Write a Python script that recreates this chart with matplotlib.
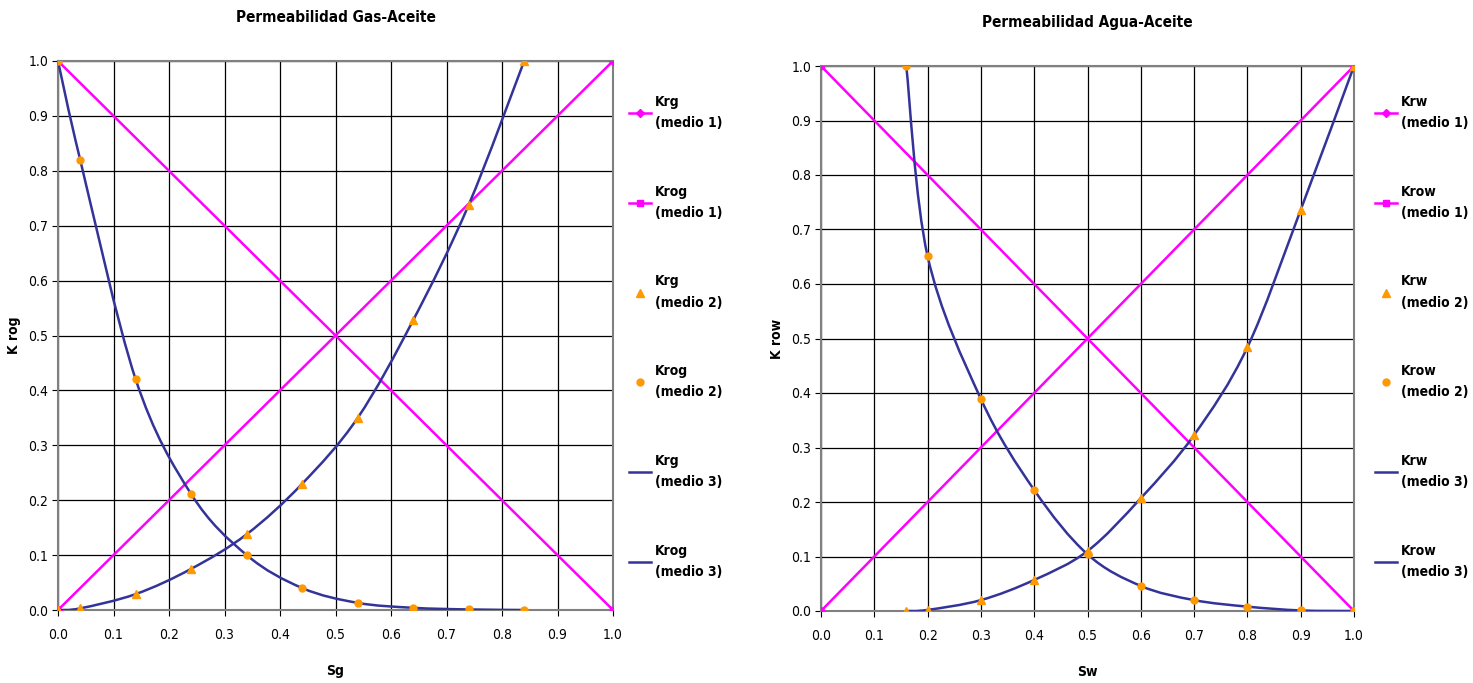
import numpy as np
import matplotlib.pyplot as plt
from matplotlib.path import Path
from matplotlib.patches import PathPatch
from matplotlib.lines import Line2D

plt.rcParams['font.family'] = ['DejaVu Sans']
plt.rcParams['font.stretch'] = 'condensed'

# medio 1: straight lines
m1_x = [0.0, 1.0]
m1_kr = [0.0, 1.0]
m1_kro = [1.0, 0.0]

# Gas-Aceite (medio 2 points, medio 3 smooth curve through same points)
sg = [0.0, 0.04, 0.14, 0.24, 0.34, 0.44, 0.54, 0.64, 0.74, 0.84]
krg = [0.0, 0.003, 0.029, 0.075, 0.138, 0.23, 0.35, 0.528, 0.738, 1.0]
krog = [1.0, 0.82, 0.42, 0.211, 0.10, 0.04, 0.013, 0.004, 0.001, 0.0]

# Agua-Aceite
sw = [0.16, 0.2, 0.3, 0.4, 0.5, 0.6, 0.7, 0.8, 0.9, 1.0]
krw = [0.0, 0.002, 0.02, 0.057, 0.11, 0.207, 0.323, 0.484, 0.736, 1.0]
krow = [1.0, 0.651, 0.389, 0.222, 0.104, 0.046, 0.02, 0.008, 0.001, 0.0]

MAG = '#FF00FF'
ORG = '#FF9900'
BLUE = '#333399'


def smooth_path(x, y):
    # Catmull-Rom segments turned into cubic bezier (Excel style smoothing)
    pts = np.column_stack([np.asarray(x, float), np.asarray(y, float)])
    verts = [pts[0]]
    codes = [Path.MOVETO]
    n = len(pts)
    for i in range(n - 1):
        p0 = pts[i - 1] if i > 0 else pts[i]
        p1 = pts[i]
        p2 = pts[i + 1]
        p3 = pts[i + 2] if i + 2 < n else pts[i + 1]
        verts += [p1 + (p2 - p0) / 6.0, p2 - (p3 - p1) / 6.0, p2]
        codes += [Path.CURVE4] * 3
    return Path(verts, codes)


def draw_panel(ax, x, kr, kro, title, xlabel, ylabel, names):
    ax.plot(m1_x, m1_kr, color=MAG, lw=1.8, marker='D', ms=4.5, zorder=3)
    ax.plot(m1_x, m1_kro, color=MAG, lw=1.8, marker='s', ms=4.5, zorder=3)
    for yy in (kr, kro):
        ax.add_patch(PathPatch(smooth_path(x, yy), fc='none', ec=BLUE,
                               lw=1.8, zorder=4))
    ax.plot(x, kr, ls='none', marker='^', color=ORG, ms=5.5, zorder=5)
    ax.plot(x, kro, ls='none', marker='o', color=ORG, ms=5, zorder=5)

    ax.set_xlim(0, 1)
    ax.set_ylim(0, 1)
    ticks = np.arange(0, 1.01, 0.1)
    ax.set_xticks(ticks)
    ax.set_yticks(ticks)
    ax.set_xticklabels([f'{t:.1f}' for t in ticks])
    ax.set_yticklabels([f'{t:.1f}' for t in ticks])
    ax.tick_params(labelsize=10, length=4, direction='out')
    ax.tick_params(axis='x', pad=9)
    ax.tick_params(axis='y', pad=3)
    ax.grid(True, color='black', lw=0.9)
    for s in ax.spines.values():
        s.set_color('#808080')
        s.set_linewidth(1.5)
    ax.set_axisbelow(True)
    ax.set_title(title, fontsize=11, fontweight='bold', pad=28)
    ax.set_xlabel(xlabel, fontsize=10, fontweight='bold', labelpad=16)
    ax.set_ylabel(ylabel, fontsize=10, fontweight='bold', labelpad=5)

    handles = [
        Line2D([], [], color=MAG, lw=1.8, marker='D', ms=4.5),
        Line2D([], [], color=MAG, lw=1.8, marker='s', ms=4.5),
        Line2D([], [], ls='none', marker='^', color=ORG, ms=5.5),
        Line2D([], [], ls='none', marker='o', color=ORG, ms=5),
        Line2D([], [], color=BLUE, lw=1.8),
        Line2D([], [], color=BLUE, lw=1.8),
    ]
    labels = [f'{names[0]}\n(medio 1)', f'{names[1]}\n(medio 1)',
              f'{names[0]}\n(medio 2)', f'{names[1]}\n(medio 2)',
              f'{names[0]}\n(medio 3)', f'{names[1]}\n(medio 3)']
    return handles, labels


fig = plt.figure(figsize=(14.73, 6.83), dpi=100)
ax1 = fig.add_axes([58 / 1473, 73 / 683, 555 / 1473, 549 / 683])
ax2 = fig.add_axes([821 / 1473, 72 / 683, 533 / 1473, 545 / 683])

h1, l1 = draw_panel(ax1, sg, krg, krog, 'Permeabilidad Gas-Aceite', 'Sg', 'K rog',
                    ['Krg', 'Krog'])
h2, l2 = draw_panel(ax2, sw, krw, krow, 'Permeabilidad Agua-Aceite', 'Sw', 'K row',
                    ['Krw', 'Krow'])

leg_kw = dict(loc='upper left', frameon=False, labelspacing=3.93,
              handlelength=1.6, handletextpad=0.25, borderpad=0, numpoints=1,
              prop={'weight': 'bold', 'size': 10, 'stretch': 'condensed'})
for h, l, x0 in ((h1, l1, 622), (h2, l2, 1368)):
    leg = fig.legend(h, l, bbox_to_anchor=(x0 / 1473, 1 - 88 / 683), **leg_kw)
    for t in leg.get_texts():
        t.set_linespacing(1.65)

fig.savefig('out.png', dpi=100)
